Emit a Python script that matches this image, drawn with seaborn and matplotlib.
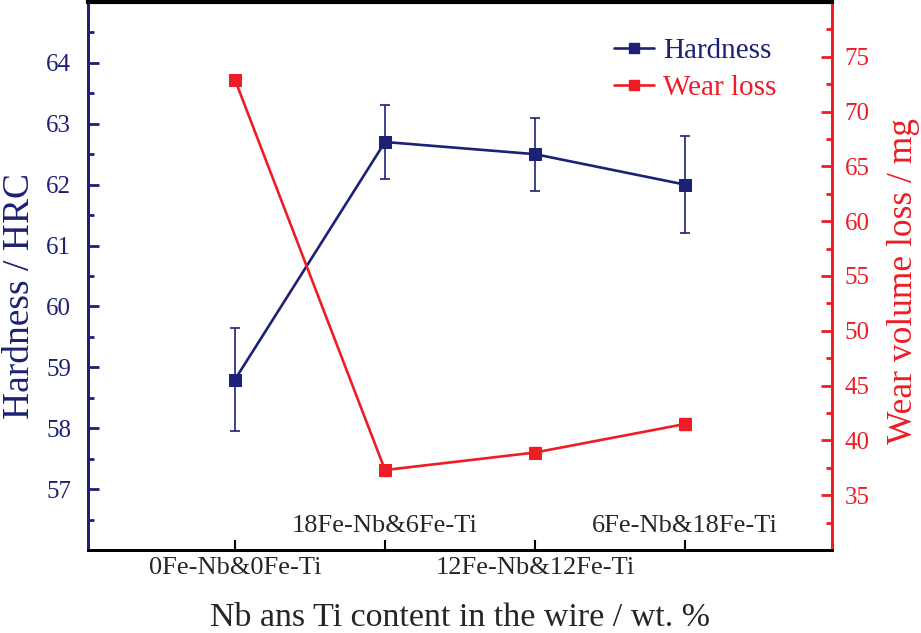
import numpy as np
import pandas as pd
import seaborn as sns
import matplotlib.pyplot as plt
from matplotlib.ticker import FixedLocator
from matplotlib.lines import Line2D
import matplotlib.transforms as mtransforms

categories = ["0Fe-Nb&0Fe-Ti", "18Fe-Nb&6Fe-Ti", "12Fe-Nb&12Fe-Ti", "6Fe-Nb&18Fe-Ti"]
hardness = [58.8, 62.7, 62.5, 62.0]
hardness_err = [0.85, 0.6, 0.6, 0.8]
wear = [72.9, 37.3, 38.9, 41.5]
wear_err = [0.4, 0.5, 0.5, 0.55]

navy = "#1d2176"
red = "#ee1c25"

sns.set_style("ticks")
plt.rcParams["font.family"] = ["Liberation Serif", "DejaVu Serif"]

df = pd.DataFrame({"pos": np.arange(len(categories)), "cat": categories,
                   "hardness": hardness, "hardness_err": hardness_err,
                   "wear": wear, "wear_err": wear_err})

fig = plt.figure(figsize=(9.21, 6.33), dpi=100)
ax = fig.add_axes([0.0955, 0.131, 0.808, 0.866])
ax2 = ax.twinx()

sns.lineplot(data=df, x="pos", y="hardness", ax=ax, color=navy, lw=1.9,
             marker="s", markersize=8, markeredgecolor=navy, zorder=3)
ax.errorbar(df["pos"], df["hardness"], yerr=df["hardness_err"], fmt="none",
            ecolor=navy, elinewidth=1.2, capsize=3.3, capthick=1.2, zorder=2)

sns.lineplot(data=df, x="pos", y="wear", ax=ax2, color=red, lw=1.9,
             marker="s", markersize=8, markeredgecolor=red, zorder=3)
ax2.errorbar(df["pos"], df["wear"], yerr=df["wear_err"], fmt="none",
             ecolor=red, elinewidth=1.0, capsize=3.5, capthick=1.0, zorder=2)

ax.set_xlim(-0.98, 3.98)
ax.set_ylim(56, 65)
ax2.set_ylim(30, 80)

# y axes
ax.yaxis.set_major_locator(FixedLocator(range(57, 65)))
ax.yaxis.set_minor_locator(FixedLocator(np.arange(56.5, 65, 1.0)))
ax2.yaxis.set_major_locator(FixedLocator(range(35, 80, 5)))
ax2.yaxis.set_minor_locator(FixedLocator(np.arange(32.5, 80, 5)))

ax.tick_params(axis="y", which="major", direction="in", length=8, width=2,
               color=navy, labelcolor=navy, labelsize=18, pad=12)
ax.tick_params(axis="y", which="minor", direction="in", length=4.5, width=2, color=navy)
ax2.tick_params(axis="y", which="major", direction="in", length=8, width=2,
                color=red, labelcolor=red, labelsize=18, pad=9)
ax2.tick_params(axis="y", which="minor", direction="in", length=4.5, width=2, color=red)

# x axis: even labels below, odd labels above the spine
ax.set_xticks(df["pos"])
ax.set_xticklabels([c if i % 2 == 0 else "" for i, c in enumerate(categories)])
ax.tick_params(axis="x", direction="in", length=7, width=1.5, color="black",
               labelsize=19, pad=5)
trans = mtransforms.blended_transform_factory(ax.transData, ax.transAxes)
for i, c in enumerate(categories):
    if i % 2 == 1:
        ax.text(i, 0.033, c, transform=trans, ha="center", va="baseline", fontsize=19)

ax.set_xlabel("Nb ans Ti content in the wire / wt. %", fontsize=24.5)
ax.xaxis.set_label_coords(0.5, -0.095)
ax.set_ylabel("Hardness / HRC", fontsize=27, color=navy)
ax.yaxis.set_label_coords(-0.0685, 0.463)
ax2.set_ylabel("Wear volume loss / mg", fontsize=25.5, color=red)
ax2.yaxis.set_label_coords(1.074, 0.49)

for a in (ax, ax2):
    a.spines["left"].set_color(navy)
    a.spines["right"].set_color(red)
    a.spines["top"].set_color("black")
    a.spines["bottom"].set_color("black")
    for s in ("left", "right", "top", "bottom"):
        a.spines[s].set_linewidth(2)
ax.spines["top"].set_linewidth(3)

handles = [Line2D([], [], color=navy, lw=1.9, marker="s", markersize=7),
           Line2D([], [], color=red, lw=1.9, marker="s", markersize=7)]
leg = ax.legend(handles, ["Hardness", "Wear loss"], loc="upper left",
                bbox_to_anchor=(0.672, 0.983), frameon=False, fontsize=21,
                handlelength=1.37, handletextpad=0.3, labelspacing=0.38)
leg.get_texts()[0].set_color(navy)
leg.get_texts()[1].set_color(red)

fig.savefig("out.png", dpi=100)
